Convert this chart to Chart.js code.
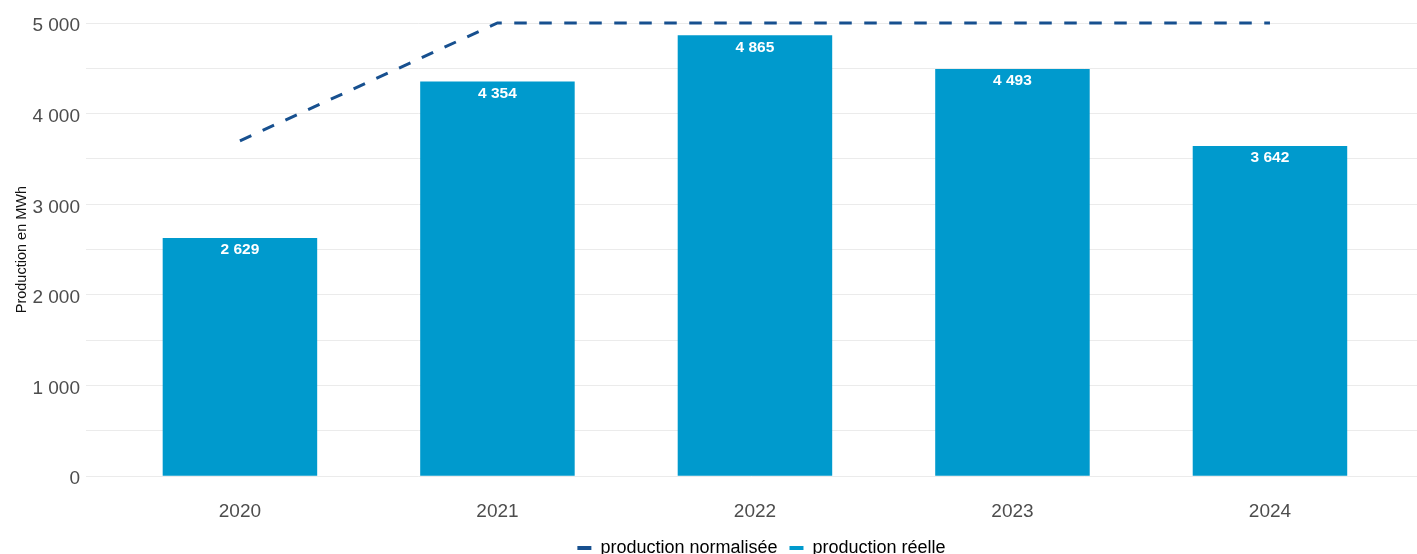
<!DOCTYPE html>
<html>
<head>
<meta charset="utf-8">
<script src="https://cdn.jsdelivr.net/npm/chart.js@4"></script>
<style>
  html, body { margin: 0; padding: 0; background: #fff; }
  #wrap { width: 1417px; height: 554px; position: relative; }
</style>
</head>
<body>
<div id="wrap"><canvas id="prodChart"></canvas></div>
<script>
// données du graphique
const years = ['2020', '2021', '2022', '2023', '2024'];
const prodReelle = [2629, 4354, 4865, 4493, 3642];
const prodNormalisee = [3700, 5000, 5000, 5000, 5000];
const yTicks = [0, 1000, 2000, 3000, 4000, 5000];

const FONT = '"Liberation Sans", Arial, sans-serif';

// format "2 629"
function fmt(v) {
    return String(Math.round(v)).replace(/\B(?=(\d{3})+(?!\d))/g, ' ');
}

// étiquettes blanches en haut des barres
const barLabels = {
    id: 'barLabels',
    afterDatasetsDraw(chart) {
        const ctx = chart.ctx;
        const meta = chart.getDatasetMeta(1);
        ctx.save();
        ctx.fillStyle = '#ffffff';
        ctx.font = 'bold 15.5px ' + FONT;
        ctx.textAlign = 'center';
        ctx.textBaseline = 'middle';
        meta.data.forEach((bar, i) => {
            ctx.fillText(fmt(prodReelle[i]), bar.x, bar.y + 12);
        });
        ctx.restore();
    }
};

// légende centrée sur la zone du graphique plutôt que sur le canvas
const legendShift = {
    id: 'legendShift',
    afterLayout(chart) {
        const lg = chart.legend;
        const dx = (chart.chartArea.left + chart.chartArea.right) / 2 - (lg.left + lg.right) / 2 + 10;
        lg.left += dx;
        lg.right += dx;
    }
};

const ctx = document.getElementById('prodChart').getContext('2d');
const chart = new Chart(ctx, {
    data: {
        datasets: [
            {
                type: 'line',
                label: 'production normalisée',
                data: prodNormalisee.map((v, i) => ({ x: i, y: v })),
                borderColor: '#17508f',
                borderWidth: 3,
                borderDash: [12.5, 12.5],
                pointRadius: 0,
                tension: 0,
                fill: false,
                clip: false,
                order: 0
            },
            {
                type: 'bar',
                label: 'production réelle',
                data: prodReelle.map((v, i) => ({ x: i, y: v })),
                backgroundColor: '#009acd',
                borderWidth: 0,
                barPercentage: 0.6,
                categoryPercentage: 1,
                order: 1
            }
        ]
    },
    options: {
        responsive: true,
        maintainAspectRatio: false,
        animation: false,
        layout: { padding: { top: 23, right: 0, left: 13, bottom: -13 } },
        scales: {
            x: {
                type: 'linear',
                min: -0.598,
                max: 4.571,
                offset: false,
                grid: { display: false },
                border: { display: false },
                afterFit: (s) => { s.height -= 12; },
                ticks: {
                    stepSize: 1,
                    includeBounds: false,
                    autoSkip: false,
                    maxRotation: 0,
                    padding: 16,
                    color: '#4d4d4d',
                    font: { family: FONT, size: 19 },
                    callback: (v) => Number.isInteger(v) ? years[v] : ''
                }
            },
            y: {
                min: 0,
                max: 5000,
                grid: { color: '#ebebeb', lineWidth: 1, drawTicks: false },
                border: { display: false },
                ticks: {
                    stepSize: 500,
                    padding: 6,
                    labelOffset: 3,
                    color: '#4d4d4d',
                    font: { family: FONT, size: 19 },
                    callback: (v) => yTicks.includes(v) ? fmt(v) : ''
                },
                title: {
                    display: true,
                    text: 'Production en MWh',
                    color: '#111',
                    font: { family: FONT, size: 14.5 },
                    padding: { top: 0, bottom: -4 }
                }
            }
        },
        plugins: {
            legend: {
                display: true,
                position: 'bottom',
                labels: {
                    color: '#222',
                    font: { family: FONT, size: 18 },
                    padding: 12,
                    boxWidth: 14,
                    boxHeight: 4,
                    generateLabels: (c) => c.data.datasets.map((d, i) => ({
                        text: d.label,
                        fillStyle: d.type === 'line' ? d.borderColor : d.backgroundColor,
                        strokeStyle: d.type === 'line' ? d.borderColor : d.backgroundColor,
                        lineWidth: 0,
                        datasetIndex: i
                    }))
                }
            },
            tooltip: { enabled: false }
        }
    },
    plugins: [barLabels, legendShift]
});
</script>
</body>
</html>
